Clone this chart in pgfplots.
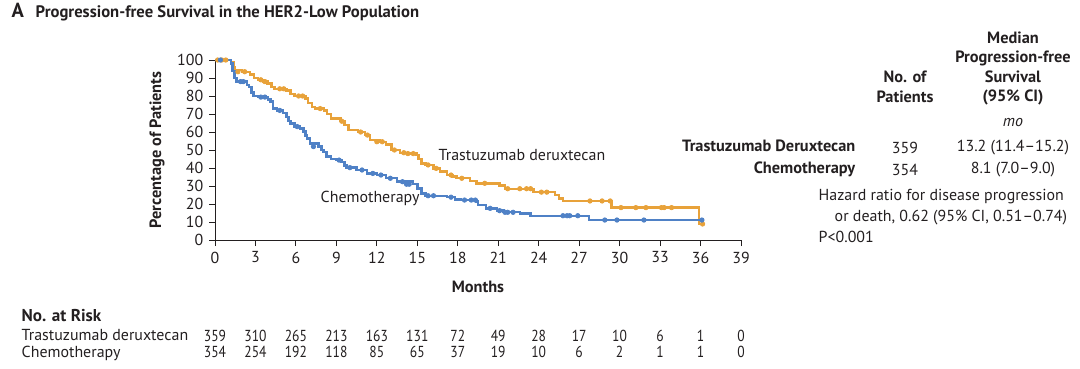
\documentclass[border=0pt]{standalone}
\usepackage{fontspec}
\setmainfont{PT Sans}
\newfontfamily\condfont[FakeStretch=0.85]{PT Sans}
\usepackage{pgfplots}
\pgfplotsset{compat=1.18}
\definecolor{tdx}{HTML}{E8A23A}
\definecolor{chemo}{HTML}{4F81C6}
\definecolor{txt}{HTML}{231F20}
\newcommand\nfs{\fontsize{8}{9.6}\selectfont}
\newcommand\bfs{\fontsize{8.2}{9.8}\selectfont\bfseries}

\pgfplotstableread{
t s
0 100
1.2 99
1.4 96
1.5 94.4
2.0 93.5
2.6 92
2.9 90
3.2 89
3.6 88
3.9 87
4.2 85
4.4 84
5.3 83
5.6 81
5.9 80
6.7 78.7
6.9 76
7.2 74
7.4 73
8.1 72
8.3 70
8.6 67.6
9.3 66
9.6 64
9.9 61
10.6 60
11.1 58.3
11.5 55.5
12.2 54.6
12.7 53
13.1 50
13.7 48.5
14.5 48
14.95 47.2
15.1 45
15.3 42.6
15.6 41.7
16.2 39.8
16.7 38
17.2 36.1
17.6 35.2
17.9 34.6
18.7 34.3
18.9 32.8
19.4 31.5
21.1 30.2
21.5 28.5
23.6 26.6
25.2 25
25.5 23
25.8 21.7
29.4 18
35.9 8.9
36.3 8.9
}\tdxdata

\pgfplotstableread{
t s
0 100
1.2 98
1.3 94
1.45 90
1.6 88
2.35 86
2.5 85
2.7 82
2.85 80
3.2 79.4
3.95 78
4.1 76.9
4.3 73
4.6 72
5.06 70.4
5.3 68.5
5.45 66
5.6 64.8
5.9 63
6.3 62
6.55 60.2
6.7 58
6.8 56.5
7.04 53.7
7.66 51.9
7.9 50
8.03 49
8.28 46.3
8.6 45
9.02 44.4
9.39 43.5
9.6 41.5
9.76 40.2
10.5 38.9
11.25 37
12 36.1
12.7 34.3
13.5 32.4
14.7 31
15.0 28.7
15.3 25.9
15.6 24.6
17.2 23.8
17.8 22.6
18.2 22.2
19.4 21.3
19.5 19.4
20.1 17.6
20.9 16.3
21.4 15.4
22.6 14.8
23.4 13.5
27.75 11.1
36.1 11.1
}\chemodata

\pgfplotstableread{
t s
0.2 100
0.5 100
0.8 100
1.7 93.5
2.2 93.5
3.4 89
3.7 88
4.8 84
5.1 84
6.2 80
6.5 80
7.8 73
9.4 66
10.8 60
11.3 58.3
12.0 54.6
12.4 54.6
13.3 50
14.0 48.5
14.3 48
14.7 48
15.8 41.7
16.4 39.8
17.5 36.1
18.3 34.3
20.0 31.5
21.7 28.5
22.6 28.5
23.1 28.5
23.4 28.5
24.2 26.6
24.6 26.6
27.8 21.7
28.7 21.7
29.3 21.7
30.1 18
31.2 18
31.95 18
33.1 18
33.3 18
33.85 18
36.15 8.9
}\tdxcens

\pgfplotstableread{
t s
0.4 100
1.9 88
2.1 88
3.4 79.4
3.7 79.4
4.8 72
6.1 63
7.3 51.9
9.2 44.4
10.0 40.2
10.9 38.9
11.7 37
12.3 36.1
13.0 34.3
13.9 32.4
14.2 31
14.4 31
15.8 24.6
16.2 24.6
17.5 23.8
18.5 22.2
19.0 22.2
19.3 22.2
20.4 17.6
21.1 16.3
21.5 15.4
21.7 15.4
22.1 15.4
25.8 13.5
26.1 13.5
26.3 13.5
26.9 13.5
28.9 11.1
29.8 11.1
31.8 11.1
36.1 11.1
}\chemocens

\pgfplotstableread{
x y n
0 -53.9 359
3 -53.9 310
6 -53.9 265
9 -53.9 213
12 -53.9 163
15 -53.9 131
18 -53.9 72
21 -53.9 49
24 -53.9 28
27 -53.9 17
30 -53.9 10
33 -53.9 6
36 -53.9 1
39 -53.9 0
0 -63.3 354
3 -63.3 254
6 -63.3 192
9 -63.3 118
12 -63.3 85
15 -63.3 65
18 -63.3 37
21 -63.3 19
24 -63.3 10
27 -63.3 6
30 -63.3 2
33 -63.3 1
36 -63.3 1
39 -63.3 0
}\riskdata

\begin{document}
\nfs
\begin{tikzpicture}[text=txt]
\begin{scope}[x=0.5bp,y=-0.5bp]
\path[use as bounding box] (0,0) rectangle (1080,368);
% title
\node[anchor=mid west, font=\fontsize{10.2}{12}\selectfont\bfseries] at (6,14) {A};
\node[anchor=mid west, font=\fontsize{8.35}{10}\selectfont\bfseries] at (30,14) {Progression-free Survival in the HER2-Low Population};
% axis labels
\node[rotate=90, font=\bfs] at (157,150) {Percentage of Patients};
\node[font=\bfs] at (478,287) {Months};
% curve labels
\node[anchor=mid west, font=\nfs] at (433,157) {Trastuzumab deruxtecan};
\node[anchor=mid west, font=\nfs] at (315,199) {Chemotherapy};
% right table
\node[font=\bfs] at (905,77) {No. of};
\node[font=\bfs] at (905,97) {Patients};
\node[font=\bfs] at (1013,38) {Median};
\node[font=\bfs] at (1013,58) {Progression-free};
\node[font=\bfs] at (1013,77) {Survival};
\node[font=\bfs] at (1013,97) {(95\% CI)};
\node[font=\nfs\itshape] at (1013,123) {mo};
\node[anchor=mid east, font=\bfs] at (861,148) {Trastuzumab Deruxtecan};
\node[font=\nfs] at (905,148) {359};
\node[font=\nfs] at (1013,148) {13.2 (11.4–15.2)};
\node[anchor=mid east, font=\bfs] at (861,170) {Chemotherapy};
\node[font=\nfs] at (905,170) {354};
\node[font=\nfs] at (1013,170) {8.1 (7.0–9.0)};
\node[anchor=mid west, font=\nfs] at (813,197) {Hazard ratio for disease progression};
\node[anchor=mid west, font=\nfs] at (829,218) {or death, 0.62 (95\% CI, 0.51–0.74)};
\node[anchor=mid west, font=\nfs] at (813,239) {P<0.001};
% risk table
\node[anchor=mid west, font=\fontsize{8.6}{10}\selectfont\bfseries] at (16,318) {No. at Risk};
\node[anchor=mid west, font=\nfs] at (16,337) {Trastuzumab deruxtecan};
\node[anchor=mid west, font=\nfs] at (16,354) {Chemotherapy};
\end{scope}
\begin{axis}[
  at={(107.5bp,-120bp)}, anchor=south west,
  width=263bp, height=90bp, scale only axis,
  xmin=0, xmax=39, ymin=0, ymax=100,
  axis x line=bottom, axis y line=left,
  axis line style={-, line width=0.5bp, txt},
  xtick={0,3,...,39}, ytick={0,10,...,100},
  tick align=outside, major tick length=3bp,
  tick style={line width=0.5bp, txt},
  tick label style={font=\nfs, text=txt},
  /pgf/number format/assume math mode=true,
  clip=false,
]
\addplot[const plot, tdx, line width=1.2bp] table[x=t,y=s] {\tdxdata};
\addplot[const plot, chemo, line width=1.2bp] table[x=t,y=s] {\chemodata};
\addplot[only marks, mark=*, mark size=1.1bp, tdx] table[x=t,y=s] {\tdxcens};
\addplot[only marks, mark=*, mark size=1.1bp, chemo] table[x=t,y=s] {\chemocens};
\addplot[draw=none, mark=none, nodes near coords, point meta=explicit symbolic,
  nodes near coords style={anchor=mid, font=\condfont\nfs, text=txt}]
  table[x=x,y=y,meta=n] {\riskdata};
\end{axis}
\end{tikzpicture}
\end{document}
